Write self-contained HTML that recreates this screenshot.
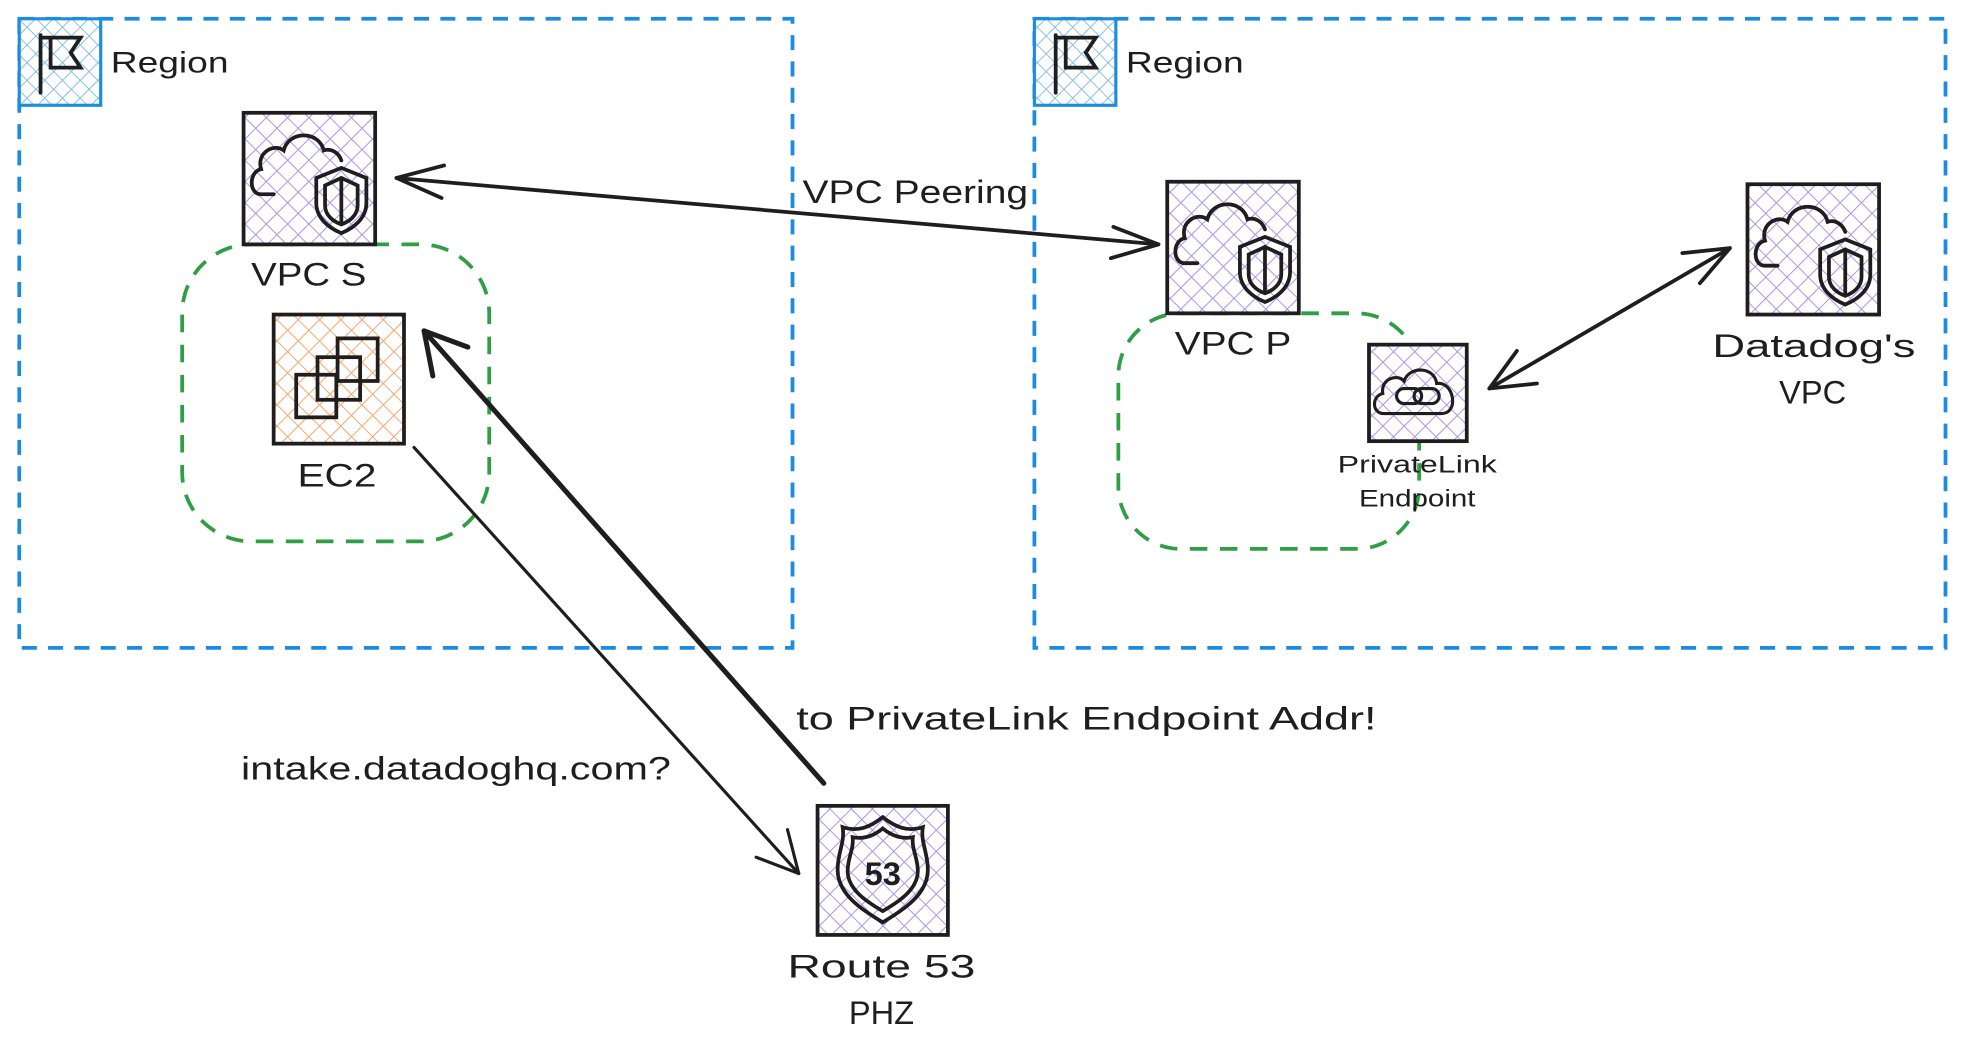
<!DOCTYPE html>
<html><head><meta charset="utf-8"><style>
html,body{margin:0;padding:0;background:#fff;}
svg{display:block;}
text{font-family:"Liberation Sans",sans-serif;fill:#1e1e1e;}
</style></head><body>
<svg width="1966" height="1059" viewBox="0 0 1568 845" xmlns="http://www.w3.org/2000/svg">
<defs>
<pattern id="hp" width="12" height="12" patternUnits="userSpaceOnUse" patternTransform="rotate(45)">
<rect width="12" height="12" fill="#fff"/>
<path d="M0 0V12M0 0H12" stroke="#a993ee" stroke-width="1.6"/>
</pattern>
<pattern id="ho" width="12" height="12" patternUnits="userSpaceOnUse" patternTransform="rotate(45)">
<rect width="12" height="12" fill="#fff"/>
<path d="M0 0V12M0 0H12" stroke="#f7a56b" stroke-width="1.6"/>
</pattern>
<pattern id="hb" width="10" height="10" patternUnits="userSpaceOnUse" patternTransform="rotate(45)">
<rect width="10" height="10" fill="#fff"/>
<path d="M0 0V10M0 0H10" stroke="#78b6e8" stroke-width="1.4"/>
</pattern>
<g id="vpcicon" fill="none" stroke="#1e1e1e" stroke-width="3" stroke-linecap="round">
<path d="M22 63 H12 C2 63 2 45 12 43 C8 30 22 22 30 28 C34 12 58 12 62 28 C68 26 74 30 76 36"/>
<path d="M56 50 L76 42 L96 50 V70 C96 82 86 90 76 94 C66 90 56 82 56 70 Z"/>
<path d="M63 56 L76 50 L89 56 V72 C89 80 82 85 76 87 C70 85 63 80 63 72 Z"/>
<path d="M76 50 V87"/>
</g>
</defs>

<rect x="15" y="15" width="617" height="502" fill="none" stroke="#1c8ce0" stroke-width="3" stroke-dasharray="12 9"/>
<rect x="825" y="15" width="727" height="502" fill="none" stroke="#1c8ce0" stroke-width="3" stroke-dasharray="12 9"/>
<rect x="15" y="15" width="65" height="69" fill="url(#hb)" stroke="#1c8ce0" stroke-width="2.5"/>
<rect x="825" y="15" width="65" height="69" fill="url(#hb)" stroke="#1c8ce0" stroke-width="2.5"/>
<g fill="none" stroke="#1e1e1e" stroke-width="3" stroke-linecap="round">
<path d="M32 28 V74 M32 30 H64 L56 42 L64 54 H40 V30"/>
<path d="M842 28 V74 M842 30 H874 L866 42 L874 54 H850 V30"/>
</g>
<text x="88" y="58" font-size="24" textLength="94" lengthAdjust="spacingAndGlyphs">Region</text>
<text x="898" y="58" font-size="24" textLength="94" lengthAdjust="spacingAndGlyphs">Region</text>

<rect x="145" y="195" width="245" height="237" rx="55" fill="none" stroke="#2f9e44" stroke-width="3" stroke-dasharray="14 10"/>
<rect x="892" y="250" width="240" height="188" rx="50" fill="none" stroke="#2f9e44" stroke-width="3" stroke-dasharray="14 10"/>

<rect x="194" y="90" width="105" height="105" fill="url(#hp)" stroke="#1e1e1e" stroke-width="3"/>
<use href="#vpcicon" x="196" y="92"/>
<text x="200" y="228" font-size="26" textLength="92" lengthAdjust="spacingAndGlyphs">VPC S</text>

<rect x="218" y="251" width="104" height="103" fill="url(#ho)" stroke="#1e1e1e" stroke-width="3"/>
<g fill="none" stroke="#1e1e1e" stroke-width="3">
<rect x="236" y="299" width="32" height="34"/>
<rect x="253" y="285" width="34" height="34"/>
<rect x="269" y="270" width="32" height="34"/>
</g>
<text x="237" y="388" font-size="26" textLength="63" lengthAdjust="spacingAndGlyphs">EC2</text>

<rect x="931" y="145" width="105" height="105" fill="url(#hp)" stroke="#1e1e1e" stroke-width="3"/>
<use href="#vpcicon" x="933" y="147"/>
<text x="937" y="283" font-size="26" textLength="93" lengthAdjust="spacingAndGlyphs">VPC P</text>

<rect x="1394" y="147" width="105" height="104" fill="url(#hp)" stroke="#1e1e1e" stroke-width="3"/>
<use href="#vpcicon" x="1396" y="149"/>
<text x="1366" y="285" font-size="26" textLength="162" lengthAdjust="spacingAndGlyphs">Datadog's</text>
<text x="1446" y="322" font-size="26" text-anchor="middle">VPC</text>

<rect x="1092" y="275" width="78" height="77" fill="url(#hp)" stroke="#1e1e1e" stroke-width="3"/>
<g fill="none" stroke="#1e1e1e" stroke-width="2.5">
<path d="M1104 330 C1094 330 1094 316 1103 314 C1101 302 1115 298 1120 304 C1124 292 1144 292 1146 306 C1160 304 1164 330 1150 330 Z"/>
<rect x="1114" y="310" width="20" height="12" rx="6"/>
<rect x="1128" y="310" width="20" height="12" rx="6"/>
</g>
<text x="1067" y="377" font-size="19" textLength="127" lengthAdjust="spacingAndGlyphs">PrivateLink</text>
<text x="1084" y="404" font-size="19" textLength="93" lengthAdjust="spacingAndGlyphs">Endpoint</text>

<rect x="652" y="643" width="104" height="103" fill="url(#hp)" stroke="#1e1e1e" stroke-width="3"/>
<g fill="none" stroke="#1e1e1e" stroke-width="3">
<path d="M672 660 C684 664 694 660 704 652 C714 660 724 664 736 660 C734 672 740 680 740 694 C740 714 720 726 704 736 C688 726 668 714 668 694 C668 680 674 672 672 660 Z"/>
<path d="M680 668 C690 670 698 666 704 661 C710 666 718 670 728 668 C727 678 732 684 732 695 C732 710 716 720 704 727 C692 720 676 710 676 695 C676 684 681 678 680 668 Z"/>
</g>
<text x="704" y="706" font-size="26" font-weight="bold" text-anchor="middle">53</text>
<text x="628" y="780" font-size="26" textLength="150" lengthAdjust="spacingAndGlyphs">Route 53</text>
<text x="703" y="817" font-size="26" text-anchor="middle">PHZ</text>

<g fill="none" stroke="#1e1e1e" stroke-linecap="round" stroke-linejoin="round">
<path d="M316 142 L924 195" stroke-width="3"/>
<path d="M354 132 L316 142 L352 158" stroke-width="3"/>
<path d="M888 181 L924 195 L886 206" stroke-width="3"/>
<path d="M1380 198 L1188 310" stroke-width="3"/>
<path d="M1342 202 L1380 198 L1356 226" stroke-width="3"/>
<path d="M1210 280 L1188 310 L1226 306" stroke-width="3"/>
<path d="M330 357 L637 697" stroke-width="2.5"/>
<path d="M603 684 L637 697 L628 662" stroke-width="2.5"/>
<path d="M657 625 L338 264" stroke-width="4"/>
<path d="M345 300 L338 264 L373 277" stroke-width="4"/>
</g>
<text x="640" y="162" font-size="26" textLength="180" lengthAdjust="spacingAndGlyphs">VPC Peering</text>
<text x="635" y="582" font-size="26" textLength="463" lengthAdjust="spacingAndGlyphs">to PrivateLink Endpoint Addr!</text>
<text x="192" y="622" font-size="26" textLength="343" lengthAdjust="spacingAndGlyphs">intake.datadoghq.com?</text>
</svg>
</body></html>
